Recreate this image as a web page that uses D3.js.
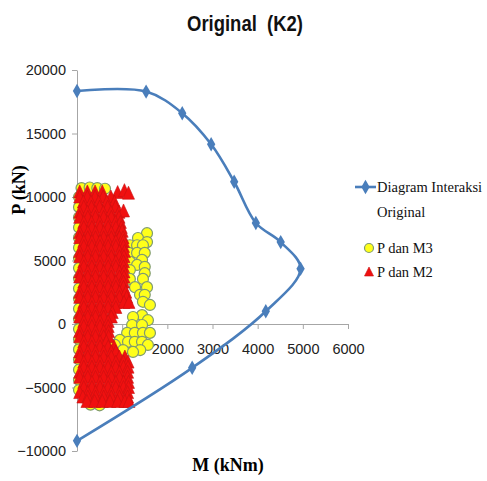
<!DOCTYPE html>
<html>
<head>
<meta charset="utf-8">
<script src="https://cdn.jsdelivr.net/npm/d3@7"></script>
<style>
  body { margin: 0; background: #fff; }
  svg text { font-family: "Liberation Sans", sans-serif; }
</style>
</head>
<body>
<div id="chart"></div>
<script>
// Diagram interaksi (M, P)
const curveM = [0, 1530, 2330, 2970, 3480, 3960, 4510, 4950, 4180, 2550, 0];
const curveP = [18350, 18300, 16600, 14150, 11200, 7950, 6450, 4350, 1000, -3450, -9200];

// P dan M3 (M, P)
const pm3 = [
  [100, 10700], [280, 10750], [450, 10700], [620, 10650],
  [45, 10000], [45, 9200], [45, 8400], [45, 7600], [45, 6800], [45, 6000], [45, 5200],
  [45, 4400], [45, 3600], [45, 2800], [45, 2000], [45, 1200], [45, 400], [45, -400],
  [45, -1200], [45, -2000], [45, -2800], [45, -3600], [45, -4400], [45, -5200],
  [300, -6350], [500, -6400],
  [1550, 7150], [1350, 6770], [1550, 6450], [1170, 6200], [1330, 6200], [1460, 6200],
  [1150, 5600], [1330, 5600], [1500, 5600], [1440, 5050], [1170, 4900],
  [1330, 4650], [1500, 4500], [1170, 4250], [1500, 4000], [1170, 3550],
  [1460, 3550], [1285, 2900], [1550, 2900], [1395, 2300], [1500, 2300], [1460, 1750],
  [1615, 1500], [1440, 700], [1570, 300],
  [1240, 550], [1220, -80], [1440, -80], [1110, -700], [1280, -700],
  [1460, -700], [1615, -700], [950, -1250], [1130, -1400], [1280, -1400], [1440, -1400],
  [1570, -1650], [840, -1650], [1020, -2050], [1400, -2050], [1240, -2200],
  [600, 3000], [400, -1000], [800, -4000]
];

// P dan M2 (M, P)
const pm2 = [
  [60, 10400], [230, 10400], [400, 10400], [560, 10400], [900, 10350], [1050, 10500], [1140, 10300],
  [60, 10000], [230, 10000], [400, 10000], [580, 10000], [750, 10000],
  [140, 9600], [310, 9600], [480, 9600], [660, 9600], [830, 9600],
  [150, 9200], [320, 9200], [500, 9200], [680, 9200], [850, 9200],
  [60, 8800], [230, 8800], [400, 8800], [580, 8800], [750, 8800], [930, 8800], [1030, 8900],
  [60, 8400], [240, 8400], [410, 8400], [590, 8400], [760, 8400], [930, 8400],
  [150, 8000], [320, 8000], [500, 8000], [680, 8000], [850, 8000], [960, 8000],
  [150, 7600], [330, 7600], [510, 7600], [690, 7600], [860, 7600], [980, 7600],
  [60, 7200], [240, 7200], [410, 7200], [590, 7200], [760, 7200], [940, 7200], [1000, 7300],
  [60, 6800], [240, 6800], [410, 6800], [590, 6800], [760, 6800], [940, 6800], [1020, 6800],
  [150, 6500], [330, 6500], [510, 6500], [690, 6500], [860, 6500], [1030, 6500],
  [150, 6100], [330, 6100], [510, 6100], [690, 6100], [860, 6100], [1030, 6100],
  [60, 5700], [240, 5700], [410, 5700], [590, 5700], [760, 5700], [940, 5700], [1050, 5700],
  [60, 5300], [240, 5300], [410, 5300], [590, 5300], [760, 5300], [940, 5300], [1040, 5300],
  [150, 4900], [330, 4900], [510, 4900], [690, 4900], [860, 4900], [1030, 4900],
  [150, 4500], [330, 4500], [510, 4500], [690, 4500], [860, 4500], [1030, 4500],
  [60, 4100], [240, 4100], [410, 4100], [590, 4100], [760, 4100], [940, 4100], [1040, 4100],
  [60, 3700], [240, 3700], [410, 3700], [590, 3700], [760, 3700], [940, 3700], [1040, 3700],
  [150, 3300], [330, 3300], [510, 3300], [690, 3300], [860, 3300], [1030, 3300],
  [150, 2900], [330, 2900], [510, 2900], [690, 2900], [860, 2900], [1030, 2900],
  [60, 2500], [240, 2500], [410, 2500], [590, 2500], [760, 2500], [940, 2500], [1080, 2500],
  [60, 2100], [240, 2100], [410, 2100], [590, 2100], [760, 2100], [940, 2100], [1100, 2100],
  [150, 1700], [330, 1700], [510, 1700], [690, 1700], [860, 1700], [1040, 1700], [1150, 1700],
  [150, 1300], [330, 1300], [510, 1300], [690, 1300], [860, 1300],
  [60, 900], [240, 900], [410, 900], [590, 900], [780, 900],
  [60, 550], [240, 550], [410, 550], [590, 550], [760, 550],
  [150, 200], [330, 200], [510, 200], [690, 200],
  [150, -200], [330, -200], [510, -200], [690, -200],
  [60, -600], [240, -600], [410, -600], [590, -600], [700, -600],
  [60, -1000], [240, -1000], [410, -1000], [590, -1000], [700, -1000],
  [150, -1400], [330, -1400], [510, -1400], [650, -1400],
  [150, -1800], [330, -1800], [510, -1800], [690, -1800], [820, -1800],
  [60, -2200], [240, -2200], [410, -2200], [590, -2200], [760, -2200], [860, -2200],
  [60, -2600], [240, -2600], [410, -2600], [590, -2600], [760, -2600], [940, -2600], [1060, -2600],
  [150, -3000], [330, -3000], [510, -3000], [690, -3000], [860, -3000], [1030, -3000], [1130, -3000],
  [150, -3400], [330, -3400], [510, -3400], [690, -3400], [860, -3400], [1030, -3400], [1130, -3400],
  [60, -3800], [240, -3800], [410, -3800], [590, -3800], [760, -3800], [940, -3800], [1120, -3800],
  [60, -4200], [240, -4200], [410, -4200], [590, -4200], [760, -4200], [940, -4200], [1120, -4200],
  [150, -4600], [330, -4600], [510, -4600], [690, -4600], [860, -4600], [1030, -4600], [1140, -4600],
  [150, -5000], [330, -5000], [510, -5000], [690, -5000], [860, -5000], [1030, -5000], [1140, -5000],
  [60, -5400], [240, -5400], [410, -5400], [590, -5400], [760, -5400], [940, -5400], [1120, -5400],
  [130, -5750], [240, -5750], [410, -5750], [590, -5750], [760, -5750], [940, -5750], [1120, -5750],
  [220, -6100], [390, -6100], [560, -6100], [730, -6100], [900, -6100], [1060, -6100], [1150, -6100]
];

const xTicks = [0, 1000, 2000, 3000, 4000, 5000, 6000];
const yTicks = [-10000, -5000, 0, 5000, 10000, 15000, 20000];

const W = 487, H = 481;
const svg = d3.select("#chart").append("svg")
    .attr("width", W)
    .attr("height", H);

const x = d3.scaleLinear().domain([0, 6000]).range([77, 348]);
const y = d3.scaleLinear().domain([-10000, 20000]).range([451, 70]);

// Judul
svg.append("text")
    .attr("transform", "translate(245,31) scale(0.84,1)")
    .attr("text-anchor", "middle")
    .attr("font-size", "22px")
    .attr("font-weight", "bold")
    .attr("fill", "#111")
    .style("white-space", "pre")
    .text("Original  (K2)");

// Sumbu
const yAxis = svg.append("g")
    .attr("transform", `translate(${x(0)},0)`)
    .call(d3.axisLeft(y).tickValues(yTicks).tickSize(5).tickSizeOuter(0).tickPadding(6).tickFormat(d3.format("d")));

const xAxis = svg.append("g")
    .attr("transform", `translate(0,${y(0)})`)
    .call(d3.axisBottom(x).tickValues(xTicks).tickSize(5).tickSizeOuter(0).tickPadding(15).tickFormat(d3.format("d")));

[yAxis, xAxis].forEach(g => {
    g.selectAll("path, line").attr("stroke", "#a6a6a6");
    g.selectAll("text").attr("font-size", "14.5px").attr("fill", "#222")
        .style("font-family", "'Liberation Sans', sans-serif");
});

// Label sumbu
svg.append("text")
    .attr("transform", "translate(25,190) rotate(-90)")
    .attr("text-anchor", "middle")
    .style("font-family", "'Liberation Serif', serif")
    .attr("font-size", "18px")
    .attr("font-weight", "bold")
    .text("P (kN)");

svg.append("text")
    .attr("x", 228)
    .attr("y", 471)
    .attr("text-anchor", "middle")
    .style("font-family", "'Liberation Serif', serif")
    .attr("font-size", "18px")
    .attr("font-weight", "bold")
    .text("M (kNm)");

// Marker
const tri = "M0,-7L6,6L-6,6Z";

svg.append("g").selectAll("circle")
    .data(pm3)
    .enter()
    .append("circle")
    .attr("cx", d => x(d[0]))
    .attr("cy", d => y(d[1]))
    .attr("r", 5.5)
    .attr("fill", "#ffff1a")
    .attr("stroke", "#7f9b70")
    .attr("stroke-width", 1.2);

svg.append("g").selectAll("path")
    .data(pm2)
    .enter()
    .append("path")
    .attr("d", tri)
    .attr("transform", d => `translate(${x(d[0])},${y(d[1])})`)
    .attr("fill", "#f01010")
    .attr("stroke", "#c81010")
    .attr("stroke-width", 0.6);

// Kurva interaksi
const curve = curveM.map((m, i) => [m, curveP[i]]);
svg.append("path")
    .datum(curve)
    .attr("fill", "none")
    .attr("stroke", "#4a7ebb")
    .attr("stroke-width", 2.6)
    .attr("d", d3.line().x(d => x(d[0])).y(d => y(d[1])).curve(d3.curveCatmullRom.alpha(0.5)));

const diamond = d3.symbol().type(d3.symbolDiamond).size(60);
svg.append("g").selectAll("path")
    .data(curve)
    .enter()
    .append("path")
    .attr("d", diamond)
    .attr("transform", d => `translate(${x(d[0])},${y(d[1])})`)
    .attr("fill", "#4a7ebb");

// Legenda
const lg = svg.append("g");
lg.append("line").attr("x1", 355).attr("x2", 376).attr("y1", 187).attr("y2", 187)
    .attr("stroke", "#4a7ebb").attr("stroke-width", 2.6);
lg.append("path").attr("d", diamond).attr("transform", "translate(365.5,187)").attr("fill", "#4a7ebb");
lg.append("circle").attr("cx", 369).attr("cy", 248).attr("r", 4.5)
    .attr("fill", "#ffff1a").attr("stroke", "#7f9b70").attr("stroke-width", 1.2);
lg.append("path").attr("d", "M0,-5L4.5,4L-4.5,4Z").attr("transform", "translate(369,272)")
    .attr("fill", "#f01010").attr("stroke", "#c81010").attr("stroke-width", 0.6);

const legendText = [["Diagram Interaksi", 192], ["Original", 217], ["P dan M3", 253], ["P dan M2", 277]];
lg.selectAll("text")
    .data(legendText)
    .enter()
    .append("text")
    .attr("x", 377)
    .attr("y", d => d[1])
    .style("font-family", "'Liberation Serif', serif")
    .attr("font-size", "14.5px")
    .attr("fill", "#111")
    .text(d => d[0]);
</script>
</body>
</html>
